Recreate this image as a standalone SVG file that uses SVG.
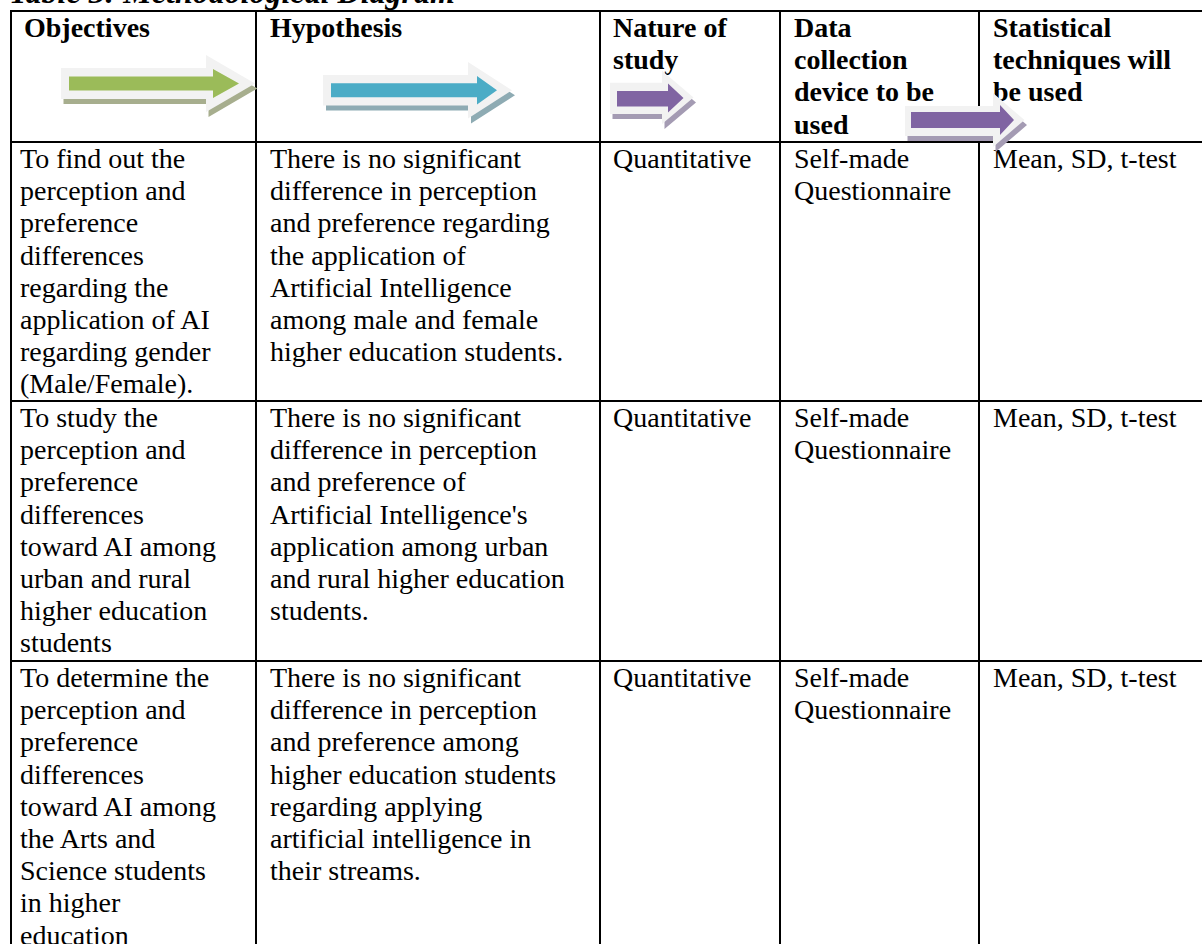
<svg xmlns="http://www.w3.org/2000/svg" width="1202" height="944" viewBox="0 0 1202 944">
<style>
.t{font-family:"Liberation Serif","Times New Roman",serif;font-size:28px;fill:#000}
.h{font-weight:bold}
.title{font-family:"Liberation Serif","Times New Roman",serif;font-size:32px;font-weight:bold;font-style:italic;fill:#000}
.grid{stroke:#000;stroke-width:2;fill:none}
.rim{fill:#f2f2f2}
.shG{fill:#a7ae8e}
.shB{fill:#8eabb3}
.shP{fill:#a49bb3}
.fG{fill:#9bbb59}
.fB{fill:#4bacc6}
.fP{fill:#8064a2}
</style>
<rect x="0" y="0" width="1202" height="944" fill="#fff"/>
<text class="title" x="9" y="3">Table 3: Methodological Diagram</text>

<g id="table-grid" class="grid">
<line x1="10" y1="11" x2="1202" y2="11"/>
<line x1="10" y1="142" x2="1202" y2="142"/>
<line x1="10" y1="401" x2="1202" y2="401"/>
<line x1="10" y1="661" x2="1202" y2="661"/>
<line x1="11" y1="10" x2="11" y2="944"/>
<line x1="256" y1="10" x2="256" y2="944"/>
<line x1="600" y1="10" x2="600" y2="944"/>
<line x1="780" y1="10" x2="780" y2="944"/>
<line x1="979" y1="10" x2="979" y2="944"/>
</g>

<g id="header">
<text class="t h" x="24" y="37">Objectives</text>
<text class="t h" x="270" y="37">Hypothesis</text>
<text class="t h" x="613" y="37">Nature of<tspan x="613" dy="32.2">study</tspan></text>
<text class="t h" x="794" y="37">Data<tspan x="794" dy="32.2">collection</tspan><tspan x="794" dy="32.2">device to be</tspan><tspan x="794" dy="32.2">used</tspan></text>
<text class="t h" x="993" y="37">Statistical<tspan x="993" dy="32.2">techniques will</tspan><tspan x="993" dy="32.2">be used</tspan></text>
</g>

<g id="row1">
<text class="t" x="20" y="168">To find out the<tspan x="20" dy="32.2">perception and</tspan><tspan x="20" dy="32.2">preference</tspan><tspan x="20" dy="32.2">differences</tspan><tspan x="20" dy="32.2">regarding the</tspan><tspan x="20" dy="32.2">application of AI</tspan><tspan x="20" dy="32.2">regarding gender</tspan><tspan x="20" dy="32.2">(Male/Female).</tspan></text>
<text class="t" x="270" y="168">There is no significant<tspan x="270" dy="32.2">difference in perception</tspan><tspan x="270" dy="32.2">and preference regarding</tspan><tspan x="270" dy="32.2">the application of</tspan><tspan x="270" dy="32.2">Artificial Intelligence</tspan><tspan x="270" dy="32.2">among male and female</tspan><tspan x="270" dy="32.2">higher education students.</tspan></text>
<text class="t" x="613" y="168">Quantitative</text>
<text class="t" x="794" y="168">Self-made<tspan x="794" dy="32.2">Questionnaire</tspan></text>
<text class="t" x="993" y="168">Mean, SD, t-test</text>
</g>

<g id="row2">
<text class="t" x="20" y="427">To study the<tspan x="20" dy="32.2">perception and</tspan><tspan x="20" dy="32.2">preference</tspan><tspan x="20" dy="32.2">differences</tspan><tspan x="20" dy="32.2">toward AI among</tspan><tspan x="20" dy="32.2">urban and rural</tspan><tspan x="20" dy="32.2">higher education</tspan><tspan x="20" dy="32.2">students</tspan></text>
<text class="t" x="270" y="427">There is no significant<tspan x="270" dy="32.2">difference in perception</tspan><tspan x="270" dy="32.2">and preference of</tspan><tspan x="270" dy="32.2">Artificial Intelligence's</tspan><tspan x="270" dy="32.2">application among urban</tspan><tspan x="270" dy="32.2">and rural higher education</tspan><tspan x="270" dy="32.2">students.</tspan></text>
<text class="t" x="613" y="427">Quantitative</text>
<text class="t" x="794" y="427">Self-made<tspan x="794" dy="32.2">Questionnaire</tspan></text>
<text class="t" x="993" y="427">Mean, SD, t-test</text>
</g>

<g id="row3">
<text class="t" x="20" y="687">To determine the<tspan x="20" dy="32.2">perception and</tspan><tspan x="20" dy="32.2">preference</tspan><tspan x="20" dy="32.2">differences</tspan><tspan x="20" dy="32.2">toward AI among</tspan><tspan x="20" dy="32.2">the Arts and</tspan><tspan x="20" dy="32.2">Science students</tspan><tspan x="20" dy="32.2">in higher</tspan><tspan x="20" dy="32.2">education</tspan></text>
<text class="t" x="270" y="687">There is no significant<tspan x="270" dy="32.2">difference in perception</tspan><tspan x="270" dy="32.2">and preference among</tspan><tspan x="270" dy="32.2">higher education students</tspan><tspan x="270" dy="32.2">regarding applying</tspan><tspan x="270" dy="32.2">artificial intelligence in</tspan><tspan x="270" dy="32.2">their streams.</tspan></text>
<text class="t" x="613" y="687">Quantitative</text>
<text class="t" x="794" y="687">Self-made<tspan x="794" dy="32.2">Questionnaire</tspan></text>
<text class="t" x="993" y="687">Mean, SD, t-test</text>
</g>

<g id="arrow-green">
<polygon class="shG" transform="translate(2.5,5)" points="61,68 206,68 206,55 255,83.5 206,112 206,99 61,99"/>
<polygon class="rim" points="61,68 206,68 206,55 255,83.5 206,112 206,99 61,99"/>
<polygon class="fG" points="69,76.5 213,76.5 213,69 239,83.5 213,98 213,90.5 69,90.5"/>
</g>
<g id="arrow-blue">
<polygon class="shB" transform="translate(3,5)" points="323,75 468,75 468,62 512,90.3 468,118.5 468,105.5 323,105.5"/>
<polygon class="rim" points="323,75 468,75 468,62 512,90.3 468,118.5 468,105.5 323,105.5"/>
<polygon class="fB" points="331,83.3 477,83.3 477,76 497,90.2 477,104.5 477,97.3 331,97.3"/>
</g>
<g id="arrow-purple-1">
<polygon class="shP" transform="translate(2.5,5)" points="610,82.7 662,82.7 662,70.7 693.5,97.5 662,124 662,114 610,114"/>
<polygon class="rim" points="610,82.7 662,82.7 662,70.7 693.5,97.5 662,124 662,114 610,114"/>
<polygon class="fP" points="617,91 668,91 668,83.5 683.5,98 668,112.5 668,106.5 617,106.5"/>
</g>
<g id="arrow-purple-2">
<polygon class="shP" transform="translate(2.5,5)" points="905,106 993,106 993,93 1024.5,120 993,147 993,136 905,136"/>
<polygon class="rim" points="905,106 993,106 993,93 1024.5,120 993,147 993,136 905,136"/>
<polygon class="fP" points="911,112 1000,112 1000,105 1014,120 1000,135 1000,128 911,128"/>
</g>
</svg>
